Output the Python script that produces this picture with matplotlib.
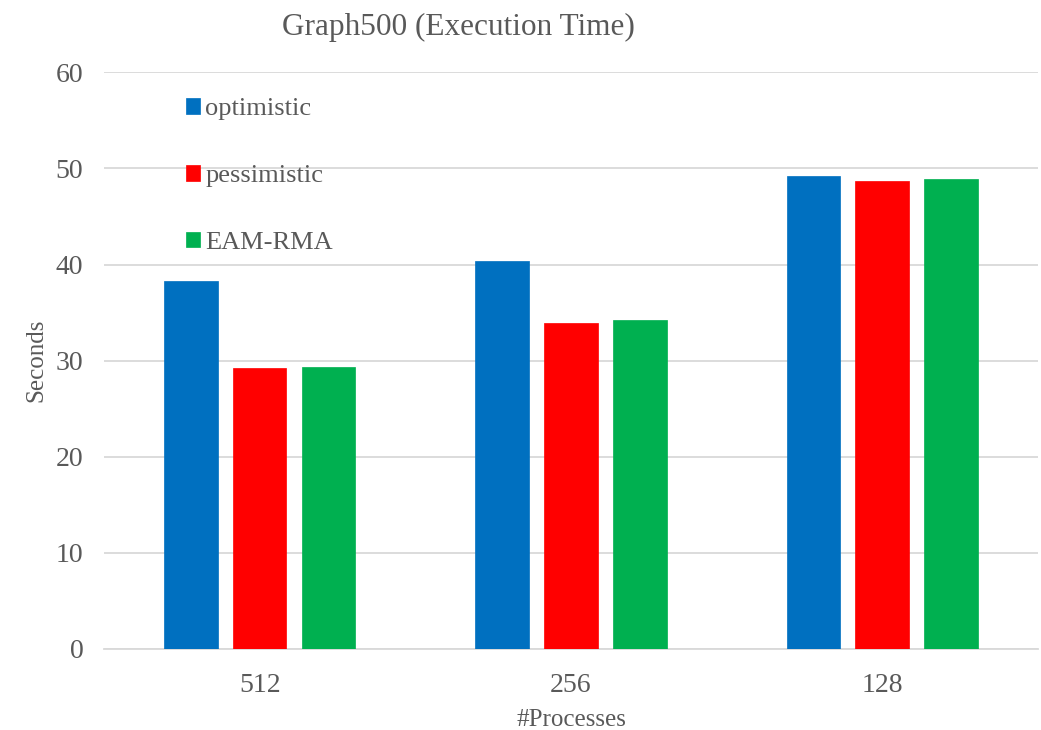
import matplotlib
matplotlib.use("Agg")
import matplotlib.pyplot as plt
import numpy as np

processes = ["512", "256", "128"]
series_names = ["optimistic", "pessimistic", "EAM-RMA"]
optimistic = [38.3, 40.4, 49.2]
pessimistic = [29.2, 33.9, 48.7]
eam_rma = [29.3, 34.2, 48.9]
colors = ["#0070C0", "#FF0000", "#00B050"]

plt.rcParams["font.family"] = ["Liberation Serif", "DejaVu Serif"]
text_color = "#595959"

fig = plt.figure(figsize=(10.41, 7.30), dpi=100)
ax = fig.add_axes([0.1, 0.111, 0.897, 0.79])

x = np.arange(len(processes))
width = 0.172
step = 0.221
series = [optimistic, pessimistic, eam_rma]
for i, (name, vals, c) in enumerate(zip(series_names, series, colors)):
    ax.bar(x + (i - 1) * step, vals, width, color=c, label=name, zorder=3,
           edgecolor=c, linewidth=0.5)

ax.set_xlim(-0.5, 2.5)
ax.set_ylim(0, 60)
ax.set_yticks(range(0, 61, 10))
ax.set_xticks(x)
ax.set_xticklabels(processes)
ax.grid(axis="y", color="#d9d9d9", linewidth=1.3, zorder=0)
for s in ["top", "right", "left"]:
    ax.spines[s].set_visible(False)
ax.spines["bottom"].set_color("#d9d9d9")
ax.spines["bottom"].set_linewidth(1.3)
ax.tick_params(axis="both", length=0, labelsize=20, colors=text_color)
ax.tick_params(axis="x", pad=17.5)
ax.tick_params(axis="y", pad=15)

ax.set_xlabel("#Processes", fontsize=18, color=text_color, labelpad=8)
ax.set_ylabel("Seconds", fontsize=18, color=text_color, labelpad=6)
fig.text(0.44, 0.963, "Graph500 (Execution Time)", fontsize=22.5,
         color=text_color, ha="center", va="center")

leg = ax.legend(loc="upper left", bbox_to_anchor=(0.0878, 0.955), frameon=False,
                fontsize=19, handlelength=0.53, handleheight=0.53,
                handletextpad=0.19, labelspacing=1.69, borderaxespad=0,
                borderpad=0)
for t in leg.get_texts():
    t.set_color(text_color)

fig.savefig("out.png", dpi=100)
